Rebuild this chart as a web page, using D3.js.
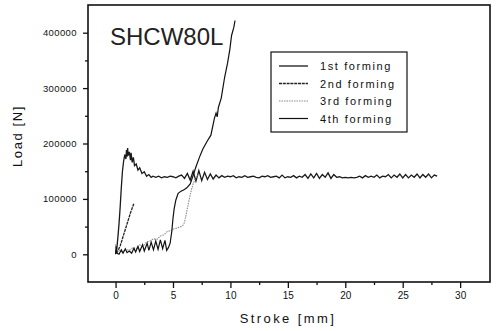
<!DOCTYPE html>
<html>
<head>
<meta charset="utf-8">
<script src="https://cdn.jsdelivr.net/npm/d3@7"></script>
<style>
  body { margin: 0; background: #fff; }
  svg { display: block; font-family: "Liberation Sans", Arial, sans-serif; }
</style>
</head>
<body>
<div id="chart"></div>
<script>
// legend labels
const seriesNames = ["1st forming", "2nd forming", "3rd forming", "4th forming"];

// 1st forming: peak then flat plateau to 28 mm
const stroke1 = [0.0, 0.1, 0.2, 0.3, 0.4, 0.5, 0.6, 0.7, 0.8, 0.9, 0.95, 1.0, 1.05, 1.1, 1.2, 1.3, 1.35, 1.45, 1.55, 1.65, 1.8, 1.95, 2.1, 2.3, 2.5, 2.7, 2.9, 3.1,
  3.25, 3.5, 3.75, 4.0, 4.25, 4.5, 4.75, 5.0, 5.25, 5.5, 5.75, 6.0, 6.25, 6.5, 6.75, 7.0, 7.25, 7.5, 7.75, 8.0, 8.25, 8.5, 8.75, 9.0, 9.25, 9.5, 9.75,
  10.0, 10.25, 10.5, 10.75, 11.0, 11.25, 11.5, 11.75, 12.0, 12.25, 12.5, 12.75, 13.0, 13.25, 13.5, 13.75, 14.0, 14.25, 14.5, 14.75,
  15.0, 15.25, 15.5, 15.75, 16.0, 16.25, 16.5, 16.75, 17.0, 17.25, 17.5, 17.75, 18.0, 18.25, 18.5, 18.75, 19.0, 19.25, 19.5, 19.75,
  20.0, 20.25, 20.5, 20.75, 21.0, 21.25, 21.5, 21.75, 22.0, 22.25, 22.5, 22.75, 23.0, 23.25, 23.5, 23.75, 24.0, 24.25, 24.5, 24.75,
  25.0, 25.25, 25.5, 25.75, 26.0, 26.25, 26.5, 26.75, 27.0, 27.25, 27.5, 27.75, 28.0];
const load1 = [5000, 8000, 30000, 55000, 85000, 120000, 150000, 168000, 180000, 172000, 188000, 176000, 192000, 178000, 185000, 170000, 183000, 166000, 175000, 160000, 163000, 152000, 156000, 146000, 149000, 141000, 144000, 139000,
  141000, 139000, 141000, 138000, 140000, 139000, 141000, 140000, 138000, 141000, 143000, 137000, 146000, 134000, 150000, 132000, 151000, 133000, 148000, 135000, 145000, 136000, 143000, 138000, 142000, 139000, 141000,
  140000, 142000, 138000, 140000, 139000, 142000, 139000, 140000, 141000, 139000, 138000, 141000, 140000, 142000, 139000, 140000, 141000, 138000, 143000, 138000,
  140000, 139000, 142000, 138000, 141000, 139000, 144000, 137000, 145000, 138000, 146000, 137000, 144000, 139000, 147000, 137000, 144000, 139000, 140000, 138000,
  139000, 138000, 139000, 138000, 139000, 141000, 138000, 142000, 139000, 141000, 139000, 143000, 138000, 141000, 140000, 144000, 138000, 143000, 139000, 145000,
  138000, 144000, 138000, 143000, 139000, 145000, 138000, 144000, 139000, 145000, 138000, 143000, 141000];

// 2nd forming: short straight rise
const stroke2 = [0.1, 0.4, 0.7, 1.0, 1.3, 1.6];
const load2 = [2000, 15000, 35000, 55000, 75000, 92000];

// 3rd forming: gradual rise then steep climb to plateau
const stroke3 = [0.0, 0.1, 0.3, 0.6, 0.9, 1.2, 1.5, 1.8, 2.1, 2.4, 2.7, 3.0, 3.3, 3.6, 3.9, 4.2, 4.5, 4.8, 5.1, 5.4, 5.7, 5.9, 6.0, 6.15, 6.3, 6.45, 6.6, 6.75, 6.9, 7.05, 7.2];
const load3 = [18000, 5000, 8000, 4000, 9000, 7000, 12000, 10000, 17000, 15000, 22000, 24000, 28000, 27000, 33000, 35000, 41000, 43000, 46000, 48000, 50000, 53000, 58000, 72000, 88000, 103000, 116000, 127000, 135000, 140000, 143000];

// 4th forming: sawtooth, then steep rise past 400000
const stroke4 = [0.0, 0.05, 0.1, 0.3, 0.5, 0.65, 0.85, 1.0, 1.2, 1.4, 1.6, 1.75, 1.95, 2.1, 2.35, 2.5, 2.75, 2.9, 3.1, 3.3, 3.5, 3.7, 3.9, 4.1, 4.3, 4.45, 4.6, 4.75,
  4.9, 5.0, 5.1, 5.25, 5.45, 5.7, 6.0, 6.2, 6.5, 6.75, 7.0, 7.3, 7.6, 8.0, 8.3, 8.6, 8.75, 8.85, 8.95, 9.2, 9.5, 9.75, 9.95, 10.1, 10.3, 10.4];
const load4 = [0, 15000, 2000, 0, 8000, 2000, 10000, 3000, 6000, 2000, 11000, 4000, 14000, 5000, 17000, 6000, 20000, 7000, 22000, 8000, 24000, 9000, 26000, 10000, 25000, 7000, 12000, 20000,
  42000, 65000, 82000, 98000, 110000, 114000, 117000, 120000, 127000, 142000, 158000, 175000, 190000, 205000, 215000, 245000, 255000, 248000, 265000, 282000, 320000, 345000, 370000, 395000, 410000, 422000];

const xMajor = [0, 5, 10, 15, 20, 25, 30];
const xMinor = [2.5, 7.5, 12.5, 17.5, 22.5, 27.5];
const yMajor = [0, 100000, 200000, 300000, 400000];
const yMinor = [50000, 150000, 250000, 350000];

const width = 496, height = 331;
const plot = {left: 88, right: 490, top: 5, bottom: 282};

const svg = d3.select("#chart")
    .append("svg")
    .attr("width", width)
    .attr("height", height);

const x = d3.scaleLinear().domain([-2.4, 32.6]).range([plot.left, plot.right]);
const y = d3.scaleLinear().domain([-50000, 450000]).range([plot.bottom, plot.top]);

// axes
const axisStyle = g => {
    g.select(".domain").remove();
    g.selectAll("line").attr("stroke", "#111").attr("stroke-width", 1.3);
    g.selectAll("text").attr("fill", "#111");
};

svg.append("g")
    .attr("transform", `translate(0,${plot.bottom})`)
    .call(d3.axisBottom(x).tickValues(xMajor).tickSize(6).tickPadding(4).tickFormat(d3.format("d")))
    .call(axisStyle)
    .call(g => g.selectAll("text").attr("font-size", 10).attr("font-family", "Liberation Sans, Arial, sans-serif"));

svg.append("g")
    .attr("transform", `translate(0,${plot.bottom})`)
    .call(d3.axisBottom(x).tickValues(xMinor).tickSize(3).tickFormat(""))
    .call(axisStyle);

svg.append("g")
    .attr("transform", `translate(${plot.left},0)`)
    .call(d3.axisLeft(y).tickValues(yMajor).tickSize(5).tickPadding(6).tickFormat(d3.format("d")))
    .call(axisStyle)
    .call(g => g.selectAll("text").attr("font-size", 9.5).attr("letter-spacing", 0.4).attr("font-family", "Liberation Sans, Arial, sans-serif"));

svg.append("g")
    .attr("transform", `translate(${plot.left},0)`)
    .call(d3.axisLeft(y).tickValues(yMinor).tickSize(3).tickFormat(""))
    .call(axisStyle);

// frame
svg.append("rect")
    .attr("x", plot.left)
    .attr("y", plot.top)
    .attr("width", plot.right - plot.left)
    .attr("height", plot.bottom - plot.top)
    .attr("fill", "none")
    .attr("stroke", "#111")
    .attr("stroke-width", 1.6);

// curves
const styles = [
    {stroke: "#1a1a1a", dash: null, w: 1.3},
    {stroke: "#222", dash: "3,0.8", w: 1.3},
    {stroke: "#8a8a8a", dash: "1.5,1", w: 1.1},
    {stroke: "#111", dash: null, w: 1.2}
];
const series = [
    stroke1.map((s, i) => [s, load1[i]]),
    stroke2.map((s, i) => [s, load2[i]]),
    stroke3.map((s, i) => [s, load3[i]]),
    stroke4.map((s, i) => [s, load4[i]])
];

const line = d3.line()
    .x(d => x(d[0]))
    .y(d => y(d[1]));

series.forEach((data, i) => {
    svg.append("path")
        .datum(data)
        .attr("fill", "none")
        .attr("stroke", styles[i].stroke)
        .attr("stroke-width", styles[i].w)
        .attr("stroke-dasharray", styles[i].dash)
        .attr("d", line);
});

// title
svg.append("text")
    .attr("x", 110)
    .attr("y", 45)
    .attr("font-size", 24)
    .attr("fill", "#222")
    .text("SHCW80L");

// legend
const legend = svg.append("g");
legend.append("rect")
    .attr("x", 271)
    .attr("y", 52)
    .attr("width", 136)
    .attr("height", 80)
    .attr("fill", "#fff")
    .attr("stroke", "#111")
    .attr("stroke-width", 1.2);

seriesNames.forEach((name, i) => {
    const ly = 66 + i * 17.5;
    legend.append("line")
        .attr("x1", 279).attr("x2", 308)
        .attr("y1", ly).attr("y2", ly)
        .attr("stroke", styles[i].stroke)
        .attr("stroke-width", styles[i].w)
        .attr("stroke-dasharray", styles[i].dash);
    legend.append("text")
        .attr("x", 320)
        .attr("y", ly + 4)
        .attr("font-size", 11)
        .attr("letter-spacing", 1.6)
        .attr("fill", "#111")
        .text(name);
});

// axis titles
svg.append("text")
    .attr("x", 288)
    .attr("y", 323)
    .attr("text-anchor", "middle")
    .attr("font-size", 13)
    .attr("letter-spacing", 2.4)
    .attr("fill", "#111")
    .text("Stroke [mm]");

svg.append("text")
    .attr("transform", "translate(22,136) rotate(-90)")
    .attr("text-anchor", "middle")
    .attr("font-size", 13)
    .attr("letter-spacing", 1.6)
    .attr("fill", "#111")
    .text("Load [N]");
</script>
</body>
</html>
